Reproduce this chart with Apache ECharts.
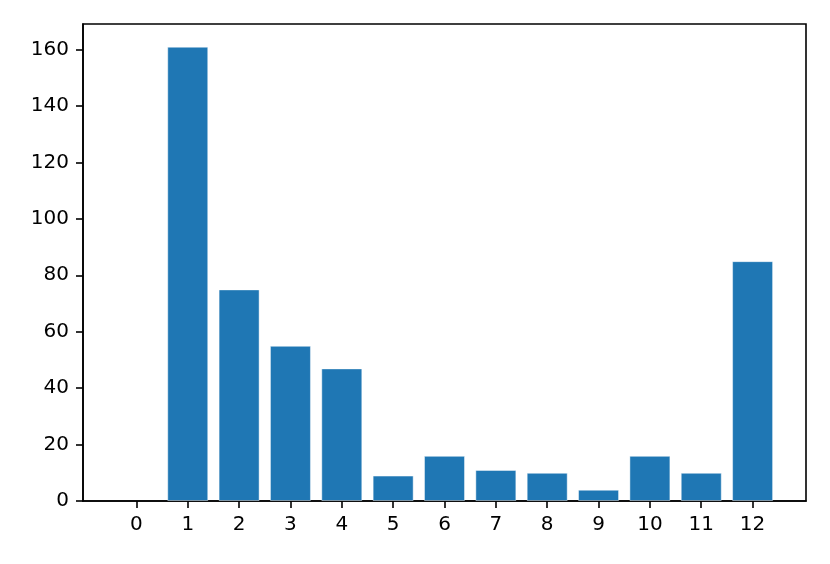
<!DOCTYPE html>
<html><head><meta charset="utf-8">
<script src="https://cdn.jsdelivr.net/npm/echarts@6/dist/echarts.min.js"></script>
<style>html,body{margin:0;padding:0;background:#fff}#c{width:830px;height:564px}</style>
</head><body><div id="c"></div>
<script>
const categories = [0,1,2,3,4,5,6,7,8,9,10,11,12];
const values = [0,161,75,55,47,9,16,11,10,4,16,10,85];
const yTicks = [0,20,40,60,80,100,120,140,160];

const chart = echarts.init(document.getElementById('c'), null, {renderer:'canvas'});
const font = 'DejaVu Sans';
chart.setOption({
  animation:false,
  grid:{left:83, right:24, top:24, bottom:63, show:true, borderColor:'#000', borderWidth:1.6, backgroundColor:'transparent'},
  xAxis:{
    type:'value', min:-1.04, max:13.04,
    splitLine:{show:false},
    axisLine:{show:true, onZero:false, lineStyle:{color:'#000', width:1.6}},
    axisTick:{show:true, customValues:categories, length:7, lineStyle:{color:'#000', width:1.6}},
    axisLabel:{customValues:categories, color:'#000', fontFamily:font, fontSize:20, margin:14}
  },
  yAxis:{
    type:'value', min:0, max:169.05,
    splitLine:{show:false},
    axisLine:{show:true, onZero:false, lineStyle:{color:'#000', width:1.6}},
    axisTick:{show:true, customValues:yTicks, length:7, lineStyle:{color:'#000', width:1.6}},
    axisLabel:{customValues:yTicks, color:'#000', fontFamily:font, fontSize:20, margin:14}
  },
  series:[{
    type:'bar',
    data: categories.map((c,i)=>({value:[c, values[i]], itemStyle: values[i]===0 ? {borderWidth:0, opacity:0} : undefined})),
    barWidth: 41,
    itemStyle:{color:'#1f77b4', borderColor:'rgba(255,255,255,0.45)', borderWidth:1}
  }]
});
</script></body></html>
